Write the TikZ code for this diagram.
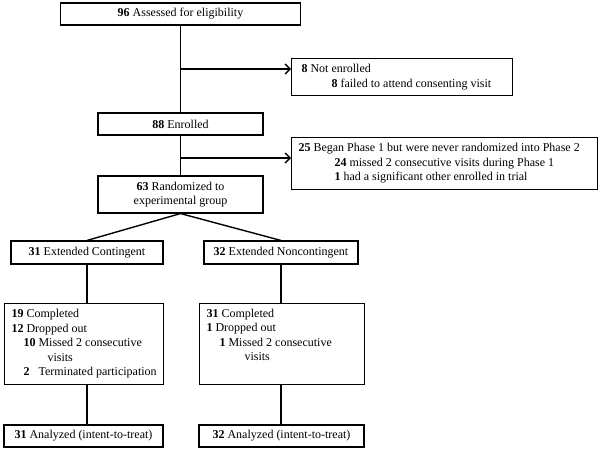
\documentclass[tikz,border=0pt]{standalone}
\usepackage{fontspec}
\setmainfont{Liberation Serif}
\usetikzlibrary{arrows.meta}

\begin{document}
\begin{tikzpicture}[x=1pt,y=-1pt,
	font=\fontsize{12}{14.5}\selectfont,
	box/.style={draw,line width=1.1pt,minimum height=22pt,inner ysep=2pt},
	listbox/.style={box,anchor=north west,align=flush left,inner xsep=5pt},
	link/.style={line width=1.4pt},
	pointer/.style={link,-{Straight Barb[length=5pt,width=10pt]}}]
		\useasboundingbox (0,0) rectangle (600,452);
		
		\node (assess) at (180.5,14) [box,minimum width=240pt] {\textbf{96} Assessed for eligibility};
		\node (notenr) at (291,58) [listbox,inner xsep=10pt,text width=201pt,minimum height=37pt]
			{\textbf{8} Not enrolled\\ \hspace*{30pt}\textbf{8} failed to attend consenting visit};
		\node (enrolled) at (180.5,124) [box,minimum width=165pt] {\textbf{88} Enrolled};
		\node (began) at (291,137) [listbox,inner xsep=7pt,text width=292pt,minimum height=52pt]
			{\textbf{25} Began Phase 1 but were never randomized into Phase 2\\
			 \hspace*{36pt}\textbf{24} missed 2 consecutive visits during Phase 1\\
			 \hspace*{36pt}\textbf{1} had a significant other enrolled in trial};
		\node (random) at (180.5,194.5) [box,minimum width=165pt,minimum height=37pt,align=center]
			{\textbf{63} Randomized to\\ experimental group};
		\node (extc) at (87,252.5) [box,minimum width=152pt,minimum height=23pt] {\textbf{31} Extended Contingent};
		\node (extn) at (281,252.5) [box,minimum width=154pt,minimum height=23pt] {\textbf{32} Extended Noncontingent};
		\node (compl) at (4,303) [listbox,inner xsep=7pt,text width=145pt,minimum height=81pt]
			{\textbf{19} Completed\\ \textbf{12} Dropped out\\
			 \hspace*{12pt}\textbf{10} Missed 2 consecutive\\ \hspace*{36pt}visits\\
			 \mbox{\hspace*{12pt}\textbf{2}\hspace{9pt}Terminated participation}};
		\node (compr) at (199,303) [listbox,inner xsep=7pt,text width=151pt,minimum height=81pt]
			{\textbf{31} Completed\\ \textbf{1} Dropped out\\
			 \hspace*{13pt}\textbf{1} Missed 2 consecutive\\ \hspace*{38pt}visits\\ \strut};
		\node (anl) at (83.5,436) [box,minimum width=159pt] {\textbf{31} Analyzed (intent-to-treat)};
		\node (anr) at (281.5,436) [box,minimum width=165pt] {\textbf{32} Analyzed (intent-to-treat)};
		
		\coordinate (j1) at (180.5,69);
		\coordinate (j2) at (180.5,158);
		
		\draw[link] (assess)--(enrolled);
		\draw[link] (enrolled)--(random);
		\draw[pointer] (j1)--(j1 -| notenr.west);
		\draw[pointer] (j2)--(j2 -| began.west);
		\draw[link] (random.south)--(extc.north);
		\draw[link] (random.south)--(extn.north);
		\draw[link] (extc.south)--(extc.south |- compl.north);
		\draw[link] (extc.south |- compl.south)--(extc.south |- anl.north);
		\draw[link] (extn.south)--(extn.south |- compr.north);
		\draw[link] (extn.south |- compr.south)--(extn.south |- anr.north);
	\end{tikzpicture}
\end{document}
